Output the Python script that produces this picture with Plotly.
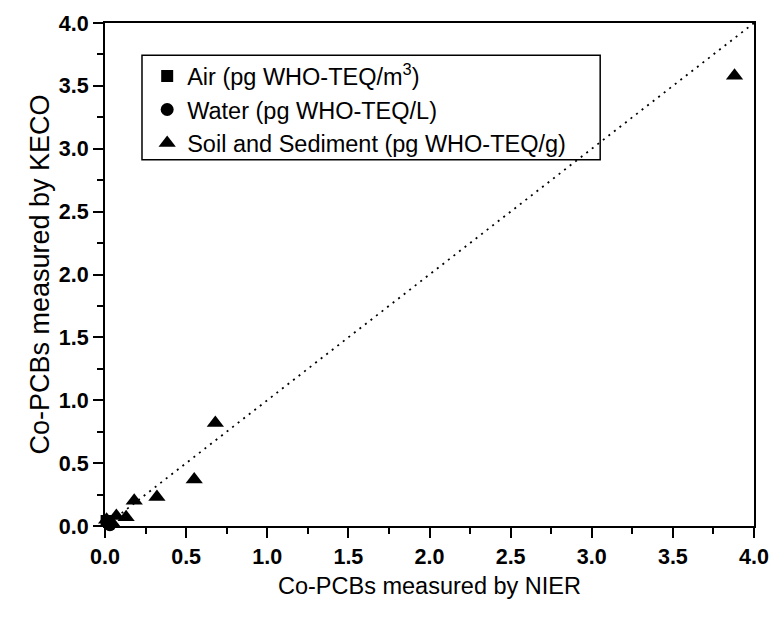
import plotly.graph_objects as go

# Data
soil_nier = [3.88, 0.68, 0.55, 0.32, 0.18, 0.13, 0.07, 0.04, 0.01]
soil_keco = [3.58, 0.82, 0.37, 0.23, 0.20, 0.07, 0.08, 0.03, 0.05]
air_nier = [0.01]
air_keco = [0.04]
water_nier = [0.03]
water_keco = [0.01]
diag_x = [0, 4]
diag_y = [0, 4]
tick_vals = [0, 0.5, 1.0, 1.5, 2.0, 2.5, 3.0, 3.5, 4.0]
tick_text = ["0.0", "0.5", "1.0", "1.5", "2.0", "2.5", "3.0", "3.5", "4.0"]

FONT = "Arial, Liberation Sans, sans-serif"

fig = go.Figure()
fig.add_trace(go.Scatter(x=diag_x, y=diag_y, mode="lines",
                         line=dict(color="black", width=1.8, dash="2px,5px"),
                         showlegend=False, hoverinfo="skip"))
fig.add_trace(go.Scatter(x=air_nier, y=air_keco, mode="markers",
                         name="Air (pg WHO-TEQ/m<sup>3</sup>)",
                         marker=dict(symbol="square", size=12, color="black"),
                         cliponaxis=False))
fig.add_trace(go.Scatter(x=water_nier, y=water_keco, mode="markers",
                         name="Water (pg WHO-TEQ/L)",
                         marker=dict(symbol="circle", size=13, color="black"),
                         cliponaxis=False))
fig.add_trace(go.Scatter(x=soil_nier, y=soil_keco, mode="markers",
                         name="Soil and Sediment (pg WHO-TEQ/g)",
                         marker=dict(symbol="triangle-up", size=15, color="black"),
                         cliponaxis=False))

axis_common = dict(
    range=[0, 4], tickvals=tick_vals, ticktext=tick_text,
    ticks="outside", ticklen=10, tickwidth=2, tickcolor="black",
    showline=True, linewidth=2, linecolor="black", mirror=True,
    showgrid=False, zeroline=False, automargin=False,
    tickfont=dict(family=FONT, size=21.5, color="black", weight="bold"),
    minor=dict(dtick=0.25, ticks="outside", ticklen=6, tickwidth=2, tickcolor="black", showgrid=False),
)

# page body has an 8px margin, so margins are reduced by 8 on left/top
fig.update_layout(
    width=784, height=620,
    margin=dict(l=97, r=38, t=15, b=102),
    paper_bgcolor="white", plot_bgcolor="white",
    font=dict(family=FONT, color="black"),
    xaxis=dict(**axis_common,
               title=dict(text="Co-PCBs measured by NIER", font=dict(family=FONT, size=23.5), standoff=10)),
    yaxis=dict(**axis_common,
               title=dict(text="Co-PCBs measured by KECO", font=dict(family=FONT, size=27), standoff=1)),
    legend=dict(x=0.065, y=0.938, xanchor="left", yanchor="top",
                bgcolor="rgba(0,0,0,0)", borderwidth=0,
                font=dict(family=FONT, size=23.5, color="black"),
                itemsizing="trace", tracegroupgap=0),
    shapes=[dict(type="rect", xref="paper", yref="paper",
                 x0=0.057, x1=0.763, y0=0.728, y1=0.936,
                 line=dict(color="black", width=1.5), fillcolor="rgba(0,0,0,0)")],
    showlegend=True,
)

fig.write_html("out.html")
